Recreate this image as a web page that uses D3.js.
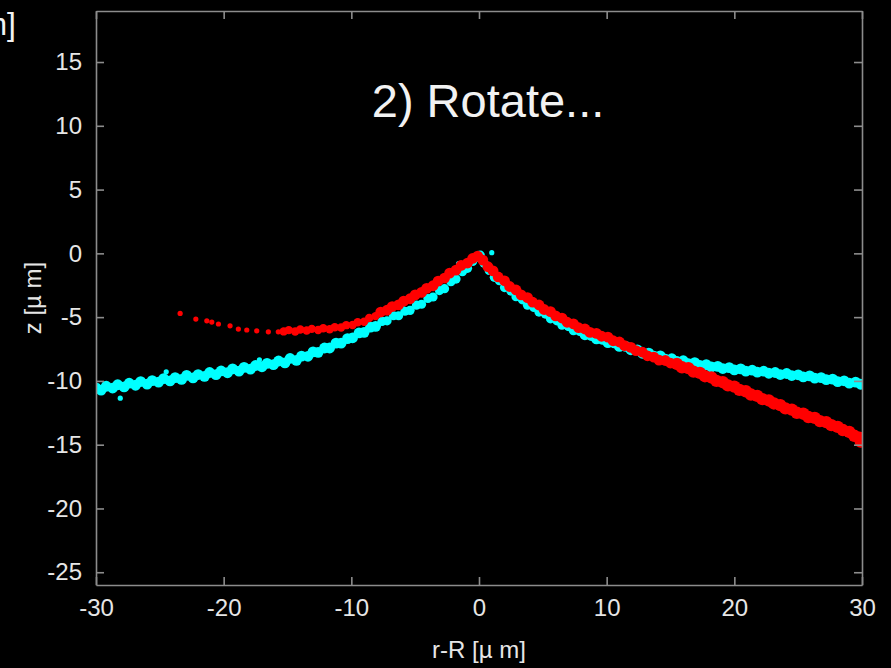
<!DOCTYPE html>
<html>
<head>
<meta charset="utf-8">
<script src="https://cdn.jsdelivr.net/npm/d3@7"></script>
<style>
  html, body { margin: 0; padding: 0; background: #000; }
  svg { display: block; }
  text { font-family: "Liberation Sans", Arial, sans-serif; }
</style>
</head>
<body>
<svg id="chart" width="891" height="668"></svg>
<script>
// Axis tick values
const xTicks = [-30, -20, -10, 0, 10, 20, 30];
const yTicks = [-25, -20, -15, -10, -5, 0, 5, 10, 15];

// Cyan profile: [r-R, z] in µm
const cyanPts = [
  [-30.0,-10.55],[-29.6,-10.72],[-29.2,-10.42],[-28.7,-10.56],[-28.3,-10.30],[-27.8,-10.47],
  [-27.4,-10.18],[-26.9,-10.34],[-26.5,-10.05],[-26.0,-10.25],[-25.6,-9.98],[-25.1,-10.10],
  [-24.7,-9.82],[-24.2,-10.00],[-23.8,-9.74],[-23.3,-9.88],[-22.9,-9.57],[-22.4,-9.76],
  [-22.0,-9.50],[-21.5,-9.64],[-21.1,-9.34],[-20.6,-9.51],[-20.2,-9.22],[-19.7,-9.36],
  [-19.3,-9.06],[-18.8,-9.24],[-18.4,-8.94],[-17.9,-9.08],[-17.5,-8.79],[-17.0,-8.89],
  [-16.6,-8.62],[-16.1,-8.72],[-15.7,-8.44],[-15.2,-8.59],[-14.8,-8.24],[-14.3,-8.39],
  [-13.9,-8.06],[-13.4,-8.07],[-13.0,-7.72],[-12.6,-7.76],[-12.1,-7.42],[-11.7,-7.42],
  [-11.2,-7.04],[-10.8,-7.04],[-10.3,-6.69],[-9.9,-6.62],[-9.4,-6.24],[-9.0,-6.19],
  [-8.5,-5.79],[-8.1,-5.72],[-7.6,-5.34],[-7.2,-5.29],[-6.7,-4.89],[-6.3,-4.89],
  [-5.8,-4.54],[-5.4,-4.47],[-4.9,-4.06],[-4.5,-3.99],[-4.0,-3.54],[-3.6,-3.42],
  [-3.1,-2.92],[-2.7,-2.77],[-2.2,-2.22],[-1.8,-2.02],[-1.3,-1.44],[-0.9,-1.17],
  [-0.5,-0.64],[-0.2,-0.32],[0.1,-0.14],[0.4,-0.78],[0.8,-1.34],[1.2,-1.88],
  [1.6,-2.14],[2.0,-2.68],[2.5,-2.96],[2.9,-3.40],[3.4,-3.64],[3.8,-4.06],
  [4.3,-4.24],[4.7,-4.60],[5.2,-4.76],[5.6,-5.13],[6.1,-5.29],[6.5,-5.63],
  [7.0,-5.74],[7.4,-6.06],[7.9,-6.12],[8.3,-6.38],[8.8,-6.44],[9.2,-6.70],
  [9.7,-6.74],[10.1,-7.00],[10.6,-7.02],[11.0,-7.30],[11.5,-7.29],[11.9,-7.56],
  [12.4,-7.56],[12.8,-7.83],[13.3,-7.82],[13.7,-8.06],[14.2,-8.04],[14.6,-8.30],
  [15.1,-8.26],[15.5,-8.48],[16.0,-8.42],[16.4,-8.64],[16.9,-8.57],[17.3,-8.78],
  [17.8,-8.72],[18.2,-8.90],[18.7,-8.86],[19.1,-9.03],[19.6,-8.96],[20.0,-9.13],
  [20.5,-9.06],[20.9,-9.23],[21.4,-9.16],[21.8,-9.31],[22.3,-9.24],[22.7,-9.40],
  [23.2,-9.34],[23.6,-9.50],[24.1,-9.42],[24.5,-9.58],[25.0,-9.52],[25.4,-9.68],
  [25.9,-9.60],[26.3,-9.78],[26.8,-9.74],[27.2,-9.90],[27.7,-9.86],[28.1,-10.06],
  [28.6,-9.99],[29.0,-10.18],[29.5,-10.09],[29.9,-10.26]
];

// Stray cyan points off the main band
const cyanStray = [
  [-28.1,-11.35],[-24.5,-9.28],[-17.2,-8.35],[-6.0,-4.05],[1.0,0.05],[-1.6,-0.8]
];

// Red profile: [r-R, z] in µm
const redPts = [
  [-15.3,-6.12],[-14.9,-6.02],[-14.4,-6.13],[-14.0,-5.97],[-13.5,-6.05],[-13.1,-5.92],
  [-12.6,-6.01],[-12.2,-5.87],[-11.7,-5.95],[-11.3,-5.79],[-10.8,-5.81],[-10.4,-5.63],
  [-9.9,-5.62],[-9.5,-5.40],[-9.0,-5.36],[-8.6,-5.07],[-8.1,-4.92],[-7.7,-4.60],
  [-7.2,-4.46],[-6.8,-4.17],[-6.3,-4.04],[-5.9,-3.75],[-5.4,-3.56],[-5.0,-3.25],
  [-4.5,-3.06],[-4.1,-2.75],[-3.6,-2.54],[-3.2,-2.17],[-2.7,-1.94],[-2.3,-1.55],
  [-1.8,-1.32],[-1.4,-0.95],[-0.9,-0.76],[-0.5,-0.40],[-0.1,-0.21],[0.3,-0.53],
  [0.7,-1.05],[1.1,-1.37],[1.5,-1.85],[2.0,-2.15],[2.4,-2.60],[2.9,-2.87],
  [3.3,-3.25],[3.8,-3.47],[4.2,-3.83],[4.7,-4.05],[5.1,-4.40],[5.6,-4.57],
  [6.0,-4.90],[6.5,-5.07],[6.9,-5.40],[7.4,-5.53],[7.8,-5.83],[8.3,-5.93],
  [8.7,-6.20],[9.2,-6.27],[9.6,-6.50],[10.1,-6.57],[10.5,-6.85],[11.0,-6.95],
  [11.4,-7.23],[11.9,-7.37],[12.3,-7.63],[12.8,-7.75],[13.2,-8.03],[13.7,-8.13],
  [14.1,-8.37],[14.6,-8.40],[15.0,-8.60],[15.5,-8.67],[15.9,-8.93],[16.4,-9.00],
  [16.8,-9.27],[17.3,-9.37],[17.7,-9.63],[18.2,-9.73],[18.6,-10.00],[19.1,-10.10],
  [19.5,-10.35],[20.0,-10.45],[20.4,-10.70],[20.9,-10.81],[21.3,-11.07],[21.8,-11.17],
  [22.2,-11.43],[22.7,-11.53],[23.1,-11.77],[23.6,-11.90],[24.0,-12.15],[24.5,-12.25],
  [24.9,-12.50],[25.4,-12.57],[25.8,-12.83],[26.3,-12.90],[26.7,-13.15],[27.2,-13.23],
  [27.6,-13.47],[28.1,-13.60],[28.5,-13.85],[29.0,-14.00],[29.4,-14.30],[29.8,-14.45],
  [29.9,-14.75]
];

// Sparse red points at the far left end of the red profile
const redSparse = [
  [-23.41,-4.71],[-22.18,-5.15],[-21.32,-5.29],[-20.93,-5.39],[-20.41,-5.54],
  [-19.50,-5.68],[-18.85,-5.94],[-18.19,-6.01],[-17.41,-6.07],[-16.50,-6.15],[-15.72,-6.15]
];

const svg = d3.select("#chart");
const W = 891, H = 668;
const m = { left: 96, right: 862, top: 11, bottom: 585 };

svg.append("rect").attr("width", W).attr("height", H).attr("fill", "#000");

const x = d3.scaleLinear().domain([-30, 30]).range([m.left, m.right]);
const y = d3.scaleLinear().domain([-26, 19]).range([m.bottom, m.top]);

// soft edges on the plotted points; clip to the axes box
const defs = svg.append("defs");
defs.append("filter").attr("id", "soft")
  .append("feGaussianBlur").attr("stdDeviation", 0.7);
defs.append("clipPath").attr("id", "plotClip")
  .append("rect").attr("x", m.left).attr("y", m.top)
  .attr("width", m.right - m.left).attr("height", m.bottom - m.top);

const axisColor = "#8c8c8c";
const labelColor = "#e6e6e6";
const tickLen = 8;

// Data layers
const plot = svg.append("g").attr("clip-path", "url(#plotClip)")
  .append("g").attr("filter", "url(#soft)");

plot.append("g").selectAll("circle").data(cyanPts).join("circle")
  .attr("cx", d => x(d[0])).attr("cy", d => y(d[1]))
  .attr("r", d => Math.abs(d[0]) < 8 ? 4.6 : 5.4)
  .attr("fill", "#00ffff");
plot.append("g").selectAll("circle").data(cyanStray).join("circle")
  .attr("cx", d => x(d[0])).attr("cy", d => y(d[1])).attr("r", 2.6)
  .attr("fill", "#00ffff");
plot.append("g").selectAll("circle").data(redSparse).join("circle")
  .attr("cx", d => x(d[0])).attr("cy", d => y(d[1])).attr("r", 2.6)
  .attr("fill", "#ff0000");
plot.append("g").selectAll("circle").data(redPts).join("circle")
  .attr("cx", d => x(d[0])).attr("cy", d => y(d[1]))
  .attr("r", d => d[0] < -8 ? 4.2 : (d[0] > 15 ? 6.2 : 5.4))
  .attr("fill", "#ff0000");

// Axes (box with inward ticks on all four sides)
const fmt = d => String(d);
const axB = svg.append("g").attr("transform", `translate(0,${m.bottom})`)
  .call(d3.axisBottom(x).tickValues(xTicks).tickSizeInner(-tickLen).tickSizeOuter(0).tickPadding(14).tickFormat(fmt));
const axT = svg.append("g").attr("transform", `translate(0,${m.top})`)
  .call(d3.axisTop(x).tickValues(xTicks).tickSizeInner(-tickLen).tickSizeOuter(0).tickFormat(""));
const axL = svg.append("g").attr("transform", `translate(${m.left},0)`)
  .call(d3.axisLeft(y).tickValues(yTicks).tickSizeInner(-tickLen).tickSizeOuter(0).tickPadding(14).tickFormat(fmt));
const axR = svg.append("g").attr("transform", `translate(${m.right},0)`)
  .call(d3.axisRight(y).tickValues(yTicks).tickSizeInner(-tickLen).tickSizeOuter(0).tickFormat(""));

[axB, axT, axL, axR].forEach(g => {
  g.select(".domain").attr("stroke", axisColor).attr("stroke-width", 1.6);
  g.selectAll(".tick line").attr("stroke", axisColor).attr("stroke-width", 1.6);
  g.selectAll(".tick text").attr("fill", labelColor)
    .style("font-size", "24px").style("font-family", "'Liberation Sans', Arial, sans-serif");
});
axB.selectAll(".tick text").attr("dy", "0.71em");

// Axis titles
svg.append("text")
  .attr("x", (m.left + m.right) / 2).attr("y", 658)
  .attr("text-anchor", "middle").attr("fill", labelColor)
  .style("font-size", "24px")
  .text("r-R [µ m]");

svg.append("text")
  .attr("transform", `translate(41,${(m.top + m.bottom) / 2}) rotate(-90)`)
  .attr("text-anchor", "middle").attr("fill", labelColor)
  .style("font-size", "24px")
  .text("z [µ m]");

// Panel heading
svg.append("text")
  .attr("x", 488).attr("y", 117)
  .attr("text-anchor", "middle").attr("fill", "#f2f2f2")
  .style("font-size", "47px")
  .text("2) Rotate...");

// Unit label of the neighbouring panel, running off the left edge
svg.append("text")
  .attr("x", 16).attr("y", 35)
  .attr("text-anchor", "end").attr("fill", "#f2f2f2")
  .style("font-size", "32px")
  .text("[µm]");
</script>
</body>
</html>
